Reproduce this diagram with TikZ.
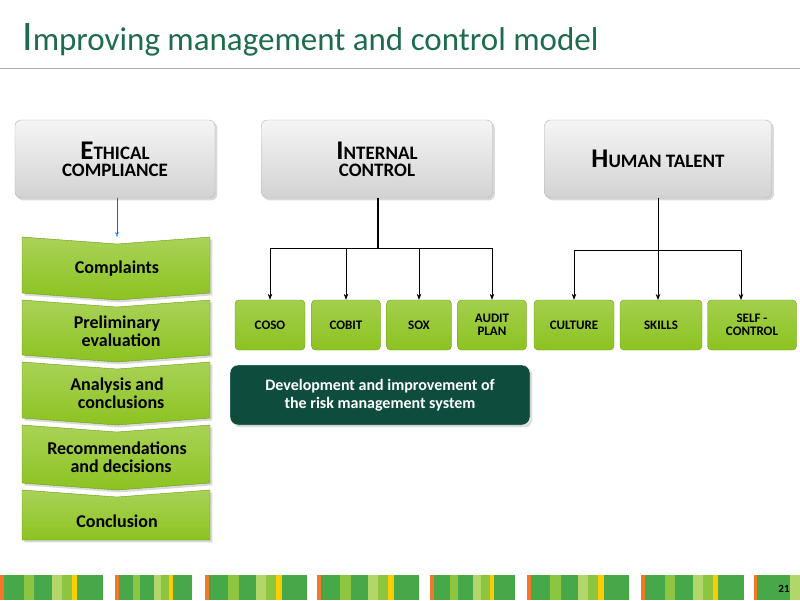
\documentclass[tikz,border=0pt]{standalone}
\usepackage{fontspec}
\setmainfont{Carlito}
\usetikzlibrary{arrows.meta,shadows}
\definecolor{titlegreen}{HTML}{1E6B4E}
\definecolor{limegreen}{HTML}{8CC320}
\definecolor{limedark}{HTML}{6C9A18}
\definecolor{darkteal}{HTML}{0E4D3E}
\definecolor{stripA}{HTML}{47A84A}
\definecolor{stripB}{HTML}{8CC540}
\definecolor{stripC}{HTML}{B3D66A}
\definecolor{stripY}{HTML}{FFCC00}
\definecolor{stripO}{HTML}{F07828}
\newcommand{\fsz}[1]{\fontsize{#1}{#1}\selectfont}
\tikzset{
  headbox/.style={draw=gray!60,rounded corners=6pt,top color=gray!8,bottom color=gray!35,
    drop shadow={opacity=0.3},font=\bfseries\fsz{19},align=center},
  leafbox/.style={draw=limedark,rounded corners=4pt,top color=limegreen!80,bottom color=limegreen,
    minimum height=50pt,font=\bfseries\fsz{13},align=center},
  stepshape/.style={draw=limedark,top color=limegreen!75,bottom color=limegreen,drop shadow={opacity=0.3}},
  steptext/.style={font=\bfseries\fsz{18},align=center,text=black},
  treeline/.style={line width=0.8pt},
  treearrow/.style={-{Stealth[length=6pt]},line width=0.6pt}
}
\newcommand{\headinit}[1]{{\fsz{27}#1}}
\begin{document}
\begin{tikzpicture}[x=1pt,y=1pt,yscale=-1,xscale=1]
\useasboundingbox (0,0) rectangle (800,600);

% Title
\node[anchor=base west,inner sep=0pt,text=titlegreen,font=\fsz{33}] (title) at (22,50)
  {{\fsz{42}I}mproving management and control model};
\draw[gray!60,line width=1pt] (0,68) -- (800,68);

% Heads
\node[headbox,minimum width=200pt,minimum height=78pt] (ethic) at (115,159)
  {\headinit{E}THICAL\\[-2pt]COMPLIANCE};
\node[headbox,minimum width=231pt,minimum height=78pt] (intern) at (377,159)
  {\headinit{I}NTERNAL\\[-2pt]CONTROL};
\node[headbox,minimum width=227pt,minimum height=78pt] (human) at (658,159)
  {\headinit{H}UMAN TALENT};

% Steps
\foreach \y/\h/\txt [count=\i] in {237/63/Complaints,300/62/{Preliminary\\\ \ evaluation},
    362/63/{Analysis and\\\ \ conclusions},425/65/{Recommendations\\\ \ and decisions}}{
  \path[stepshape] (22,\y) -- (117,\y+7) -- (210,\y) -- (210,\y+\h-7) -- (117,\y+\h) -- (22,\y+\h-7) -- cycle;
  \node[steptext] (step\i) at (117,\y+\h/2) {\txt};
}
\path[stepshape] (22,490) -- (117,497) -- (210,490) -- (210,540) -- (22,540) -- cycle;
\node[steptext] (step5) at (117,521) {Conclusion};
\draw[-{Stealth[length=5pt,open]},color=blue!60!cyan] (ethic.south -| step1) -- (117,237);

% Internal control tree
\node[leafbox,minimum width=70pt] (coso) at (270,325) {COSO};
\node[leafbox,minimum width=69pt] (cobit) at (346,325) {COBIT};
\node[leafbox,minimum width=65pt] (sox) at (419,325) {SOX};
\node[leafbox,minimum width=69pt] (audit) at (492,325) {AUDIT\\PLAN};
\coordinate (ictop) at (378,248);
\draw[treeline,line width=1.6pt] (intern.south -| ictop) -- (ictop);
\draw[treeline] (coso.north |- ictop) -- (audit.north |- ictop);
\foreach \n in {coso,cobit,sox,audit}
  \draw[treearrow] (\n.north |- ictop) -- (\n.north);

% Human talent tree
\node[leafbox,minimum width=80pt] (culture) at (574,325) {CULTURE};
\node[leafbox,minimum width=82pt] (skills) at (661,325) {SKILLS};
\node[leafbox,minimum width=89pt] (self) at (752,325) {SELF -\\CONTROL};
\coordinate (httop) at (658,250);
\draw[treeline] (human.south) -- (httop);
\draw[treeline] (culture.north |- httop) -- (741,250);
\draw[treearrow] (culture.north |- httop) -- (culture.north);
\draw[treearrow] (httop) -- (658,300);
\draw[treearrow] (741,250) -- (741,300);

% Risk box
\node[draw=white,rounded corners=8pt,fill=darkteal,text=white,font=\bfseries\fsz{16},align=center,
  minimum width=300pt,minimum height=60pt,drop shadow={opacity=0.25}] (risk) at (380,395)
  {Development and improvement of\\[2pt]the risk management system};

% Bottom strip
\foreach \x/\w in {0/103,115/77,205/102,317/102,430/85,527/102,641/103}{
  \fill[stripO] (\x,575) rectangle (\x+4,600);
  \fill[stripA] (\x+4,575) rectangle (\x+\w,600);
  \fill[stripB] (\x+0.23*\w,575) rectangle (\x+0.33*\w,600);
  \fill[stripC] (\x+0.5*\w,575) rectangle (\x+0.6*\w,600);
  \fill[stripB] (\x+0.6*\w,575) rectangle (\x+0.7*\w,600);
  \fill[stripY] (\x+0.7*\w,575) rectangle (\x+0.75*\w,600);
}
\fill[stripO] (754,575) rectangle (757,600);
\fill[stripA] (757,575) rectangle (800,600);
\fill[stripC] (790,575) rectangle (800,600);
\node[font=\bfseries\fsz{11},inner sep=0pt] (pagenum) at (784,589) {21};
\end{tikzpicture}
\end{document}
